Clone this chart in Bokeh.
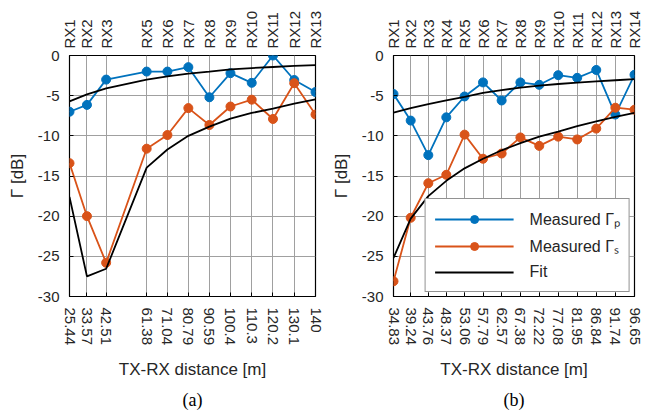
from bokeh.plotting import figure
from bokeh.models import Range1d, LinearAxis, FixedTicker, Legend, LegendItem, Title
from bokeh.layouts import row
from bokeh.embed import file_html
from bokeh.resources import INLINE

# ---- panel (a) ----
dist_a = [25.44, 33.57, 42.51, 61.38, 71.04, 80.79, 90.59, 100.4, 110.3, 120.2, 130.1, 140.0]
dist_a_labels = ["25.44", "33.57", "42.51", "61.38", "71.04", "80.79", "90.59",
                 "100.4", "110.3", "120.2", "130.1", "140"]
rx_a = ["RX1", "RX2", "RX3", "RX5", "RX6", "RX7", "RX8", "RX9", "RX10", "RX11", "RX12", "RX13"]
gp_a = [-7.0, -6.15, -3.0, -2.0, -2.0, -1.45, -5.2, -2.2, -3.4, 0.0, -3.05, -4.55]
gs_a = [-13.4, -20.0, -25.8, -11.6, -9.9, -6.55, -8.65, -6.35, -5.5, -7.9, -3.45, -7.35]
fitp_a = [-5.7, -4.85, -4.1, -3.0, -2.6, -2.25, -2.0, -1.72, -1.56, -1.43, -1.3, -1.2]
fits_a = [-17.6, -27.5, -26.55, -13.95, -11.7, -10.0, -8.85, -7.85, -7.15, -6.6, -6.0, -5.45]

# ---- panel (b) ----
dist_b = [34.83, 39.24, 43.76, 48.37, 53.06, 57.79, 62.57, 67.38, 72.22, 77.08, 81.95, 86.84, 91.74, 96.65]
dist_b_labels = ["34.83", "39.24", "43.76", "48.37", "53.06", "57.79", "62.57", "67.38",
                 "72.22", "77.08", "81.95", "86.84", "91.74", "96.65"]
rx_b = ["RX%d" % i for i in range(1, 15)]
gp_b = [-4.8, -8.1, -12.4, -7.7, -5.1, -3.35, -5.6, -3.35, -3.65, -2.45, -2.78, -1.8, -7.35, -2.4]
gs_b = [-28.1, -20.2, -15.9, -14.85, -9.85, -12.85, -12.2, -10.2, -11.25, -10.1, -10.45, -9.1, -6.5, -6.75]
fitp_b = [-7.1, -6.55, -6.05, -5.6, -5.15, -4.65, -4.3, -4.0, -3.75, -3.55, -3.37, -3.22, -3.08, -2.94]
fits_b = [-25.2, -20.3, -17.5, -15.6, -14.05, -12.85, -11.8, -10.9, -10.1, -9.47, -8.8, -8.2, -7.65, -7.15]

y_ticks = [-30, -25, -20, -15, -10, -5, 0]

BLUE = "#0072BD"
ORANGE = "#D95319"
FONT = "Liberation Sans"


def make_fig(dist, labels, rx, gp, gs, fitp, fits, caption, left, right, legend):
    p = figure(width=328, height=414,
               x_range=Range1d(dist[0], dist[-1]), y_range=Range1d(-30, 0),
               output_backend="svg", toolbar_location=None,
               min_border_left=left, min_border_right=right,
               min_border_top=55, min_border_bottom=113)
    p.outline_line_color = "black"
    p.outline_line_width = 1.2

    # bottom axis
    xa = p.xaxis[0]
    xa.ticker = FixedTicker(ticks=dist)
    xa.major_label_overrides = {d: l for d, l in zip(dist, labels)}
    xa.major_label_orientation = "vertical"
    xa.axis_label = "TX-RX distance [m]"

    # left axis
    ya = p.yaxis[0]
    ya.ticker = FixedTicker(ticks=y_ticks)
    ya.major_label_overrides = {t: str(t) for t in y_ticks}
    ya.axis_label = "\u0393 [dB]"

    # top axis with RX names
    top = LinearAxis(ticker=FixedTicker(ticks=dist),
                     major_label_overrides={d: r for d, r in zip(dist, rx)},
                     major_label_orientation="vertical")
    p.add_layout(top, "above")

    for ax in (xa, ya, top):
        ax.axis_line_color = None
        ax.major_tick_out = 0
        ax.major_tick_in = 4
        ax.minor_tick_out = 0
        ax.minor_tick_in = 0
        ax.major_label_text_font = FONT
        ax.major_label_text_font_size = "15px"
        ax.major_label_text_color = "#262626"
        ax.axis_label_text_font = FONT
        ax.axis_label_text_font_size = "17px"
        ax.axis_label_text_font_style = "normal"
        ax.axis_label_text_color = "#262626"
        ax.major_label_standoff = 10
    top.major_tick_in = 0
    top.major_label_standoff = 7
    xa.major_label_standoff = 11
    xa.axis_label_standoff = 12
    ya.axis_label_standoff = 8

    p.xgrid.ticker = FixedTicker(ticks=dist)
    p.ygrid.ticker = FixedTicker(ticks=y_ticks)
    for g in (p.xgrid, p.ygrid):
        g.grid_line_color = "#a0a0a0"
        g.grid_line_width = 1

    lp = p.line(dist, gp, line_color=BLUE, line_width=1.8)
    sp = p.scatter(dist, gp, size=9, fill_color=BLUE, line_color=BLUE)
    ls = p.line(dist, gs, line_color=ORANGE, line_width=1.8)
    ss = p.scatter(dist, gs, size=9, fill_color=ORANGE, line_color=ORANGE)
    f1 = p.line(dist, fitp, line_color="black", line_width=1.8)
    p.line(dist, fits, line_color="black", line_width=1.8)

    if legend:
        leg = Legend(items=[
            LegendItem(label="Measured \u0393\u209a", renderers=[lp, sp]),
            LegendItem(label="Measured \u0393\u209b", renderers=[ls, ss]),
            LegendItem(label="Fit", renderers=[f1]),
        ], location="bottom_right")
        leg.label_text_font = FONT
        leg.label_text_font_size = "16px"
        leg.label_text_color = "#262626"
        leg.glyph_width = 79
        leg.glyph_height = 20
        leg.label_height = 20
        leg.label_standoff = 16
        leg.spacing = 5
        leg.padding = 9
        leg.margin = 4
        leg.border_line_color = "#262626"
        leg.border_line_width = 1
        leg.background_fill_alpha = 1.0
        p.add_layout(leg)

    t = Title(text=caption, align="center", text_font="Liberation Serif",
              text_font_size="18px", text_font_style="normal", text_color="black")
    p.add_layout(t, "below")
    return p


pa = make_fig(dist_a, dist_a_labels, rx_a, gp_a, gs_a, fitp_a, fits_a, "(a)", 69, 13, False)
pb = make_fig(dist_b, dist_b_labels, rx_b, gp_b, gs_b, fitp_b, fits_b, "(b)", 59, 22, True)

layout = row(pa, pb)
open("out.html", "w").write(file_html(layout, INLINE))
